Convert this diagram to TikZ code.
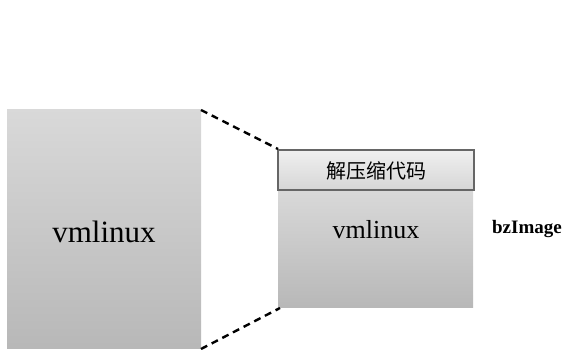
\documentclass[tikz,border=0pt]{standalone}
\usepackage{fontspec}
\setmainfont{Liberation Serif}
\newfontfamily\cjkfont{Noto Sans CJK SC}
\begin{document}
\begin{tikzpicture}[x=1pt,y=-1pt,
  imgbox/.style={draw=none, top color=black!15, bottom color=black!28},
  headbox/.style={draw=black!60, line width=1.2pt, top color=black!6, bottom color=black!16},
  linkline/.style={draw=black, line width=2.4pt, dash pattern=on 7pt off 5pt}]
\useasboundingbox (0,0) rectangle (566,350);
% plain kernel image
\path[imgbox] (7,110) rectangle (201,349);
\coordinate (ltop) at (201,110);
\coordinate (lbot) at (201,349);
\node (lbl) at (104,232) {\fontsize{31}{31}\selectfont vmlinux};
% compressed image with decompression stub on top
\path[imgbox] (278,190) rectangle (473,308);
\path[headbox] (278,150) rectangle (474,190);
\coordinate (rtop) at (278,149);
\coordinate (rbot) at (280,308);
\node (hdr) at (376,171) {\cjkfont\fontsize{20}{20}\selectfont 解压缩代码};
\node (rlbl) at (376,230) {\fontsize{26}{26}\selectfont vmlinux};
\node (bz) at (527,229) {\fontsize{19}{19}\selectfont\bfseries bzImage};
% dashed connectors
\draw[linkline] (ltop) -- (rtop);
\draw[linkline] (lbot) -- (rbot);
\end{tikzpicture}
\end{document}
